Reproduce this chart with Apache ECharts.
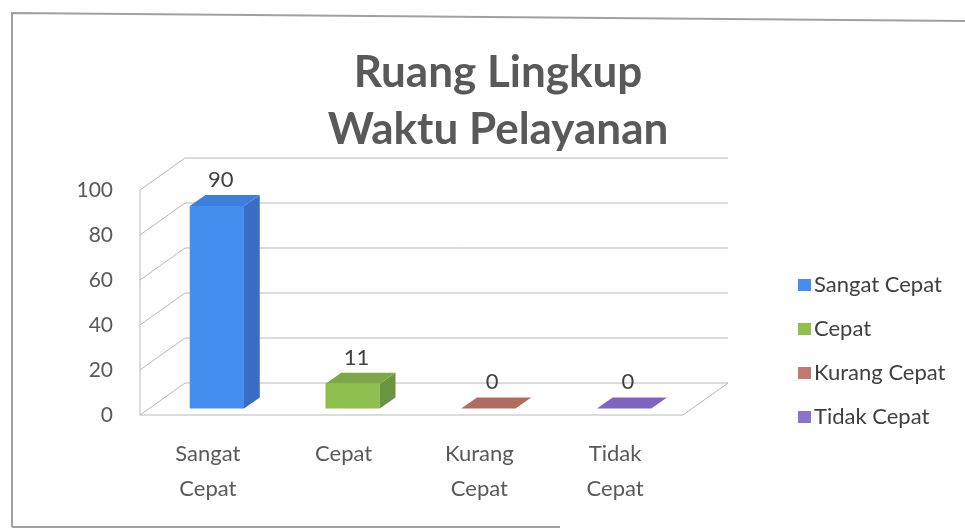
<!DOCTYPE html>
<html>
<head>
<meta charset="utf-8">
<script src="https://cdn.jsdelivr.net/npm/echarts@6/dist/echarts.min.js"></script>
<style>
  html, body { margin: 0; padding: 0; background: #fff; }
  #chart { width: 965px; height: 530px; }
</style>
</head>
<body>
<div id="chart"></div>
<script>
var categories = ['Sangat Cepat', 'Cepat', 'Kurang Cepat', 'Tidak Cepat']
var axisLabels = ['Sangat\nCepat', 'Cepat', 'Kurang\nCepat', 'Tidak\nCepat']
var values = [90, 11, 0, 0]
var yTicks = [0, 20, 40, 60, 80, 100]

var frontColors = ['#448ef0', '#8fc04e', '#c27a6c', '#8c72cc']
var sideColors = ['#3a6cc4', '#6b9440', '#a0604f', '#6f58ad']
var topColors = ['#3f7fdc', '#7ea846', '#b06c5e', '#7d64bf']

// depth of the 3d box, in px
var DX = 45
var DY = -32

var chart = echarts.init(document.getElementById('chart'))

function renderWall(params, api) {
  var cs = params.coordSys
  var v = api.value(0)
  var y = api.coord([0, v])[1]
  var left = cs.x
  var right = cs.x + cs.width
  var style = { stroke: '#b8b8b8', lineWidth: 1, fill: null }
  var children = [{
    type: 'polyline',
    shape: { points: [[left, y], [left + DX, y + DY], [right + DX, y + DY]] },
    style: style
  }]
  if (v === 0) {
    children.push({
      type: 'polyline',
      shape: { points: [[left, cs.y], [left, y], [right, y], [right + DX, y + DY]] },
      style: style
    })
  }
  return { type: 'group', children: children }
}

function renderBar(params, api) {
  var i = api.value(0)
  var c0 = api.coord([i, 0])
  var c1 = api.coord([i, api.value(1)])
  var band = api.size([1, 0])[0]
  var w = band * 0.4
  var fx = DX * 0.2, fy = DY * 0.2
  var dx = DX * 0.35, dy = DY * 0.35
  var xl = c0[0] - w / 2 + fx
  var xr = xl + w
  var yb = c0[1] + fy
  var yt = c1[1] + fy
  var s = params.seriesIndex - 1 // series 0 is the wall
  return {
    type: 'group',
    children: [
      { type: 'rect', shape: { x: xl, y: yt, width: w, height: yb - yt }, style: { fill: frontColors[s] } },
      { type: 'polygon', shape: { points: [[xr, yt], [xr + dx, yt + dy], [xr + dx, yb + dy], [xr, yb]] }, style: { fill: sideColors[s] } },
      { type: 'polygon', shape: { points: [[xl, yt], [xr, yt], [xr + dx, yt + dy], [xl + dx, yt + dy]] }, style: { fill: topColors[s] } },
      {
        type: 'text',
        style: {
          text: String(api.value(1)),
          x: (xl + xr) / 2 + dx / 2 - 4,
          y: yt + dy - 4,
          align: 'center',
          verticalAlign: 'bottom',
          fill: '#404040',
          font: '22px Lato'
        }
      }
    ]
  }
}

var series = [{
  name: 'wall',
  type: 'custom',
  silent: true,
  z: 1,
  renderItem: renderWall,
  data: yTicks.map(function (v) { return [v] }),
  encode: { y: 0 }
}]

categories.forEach(function (name, i) {
  series.push({
    name: name,
    type: 'custom',
    z: 2,
    itemStyle: { color: frontColors[i] },
    renderItem: renderBar,
    encode: { x: 0, y: 1 },
    data: [[i, values[i]]]
  })
})

var option = {
  backgroundColor: '#fff',
  animation: false,
  title: {
    text: 'Ruang Lingkup\nWaktu Pelayanan',
    left: 498,
    top: 44,
    padding: 0,
    textAlign: 'center',
    textStyle: {
      fontFamily: 'Lato',
      fontSize: 44,
      fontWeight: 'bold',
      color: '#595959',
      lineHeight: 57
    }
  },
  legend: {
    data: categories,
    orient: 'vertical',
    left: 793,
    top: 269,
    itemGap: 22,
    itemWidth: 13,
    itemHeight: 12,
    icon: 'rect',
    textStyle: { fontFamily: 'Lato', fontSize: 22, color: '#404040', padding: [0, 0, 0, -2] }
  },
  grid: { left: 140, right: 282, top: 190, bottom: 115 },
  xAxis: {
    type: 'category',
    data: categories,
    axisLine: { show: false },
    axisTick: { show: false },
    axisLabel: {
      interval: 0,
      margin: 21,
      fontFamily: 'Lato',
      fontSize: 22,
      lineHeight: 35,
      color: '#595959',
      formatter: function (v, i) { return axisLabels[i] }
    }
  },
  yAxis: {
    type: 'value',
    min: 0,
    max: 100,
    interval: 20,
    splitLine: { show: false },
    axisLine: { show: false },
    axisTick: { show: false },
    axisLabel: { margin: 27, fontFamily: 'Lato', fontSize: 21, color: '#595959' }
  },
  graphic: [
    { type: 'polyline', silent: true, shape: { points: [[12, 527], [12, 13], [965, 21]] }, style: { stroke: '#a0a0a0', lineWidth: 2, fill: null } },
    { type: 'line', silent: true, shape: { x1: 12, y1: 527, x2: 560, y2: 527 }, style: { stroke: '#a0a0a0', lineWidth: 2 } }
  ],
  series: series
}

chart.setOption(option)
</script>
</body>
</html>
